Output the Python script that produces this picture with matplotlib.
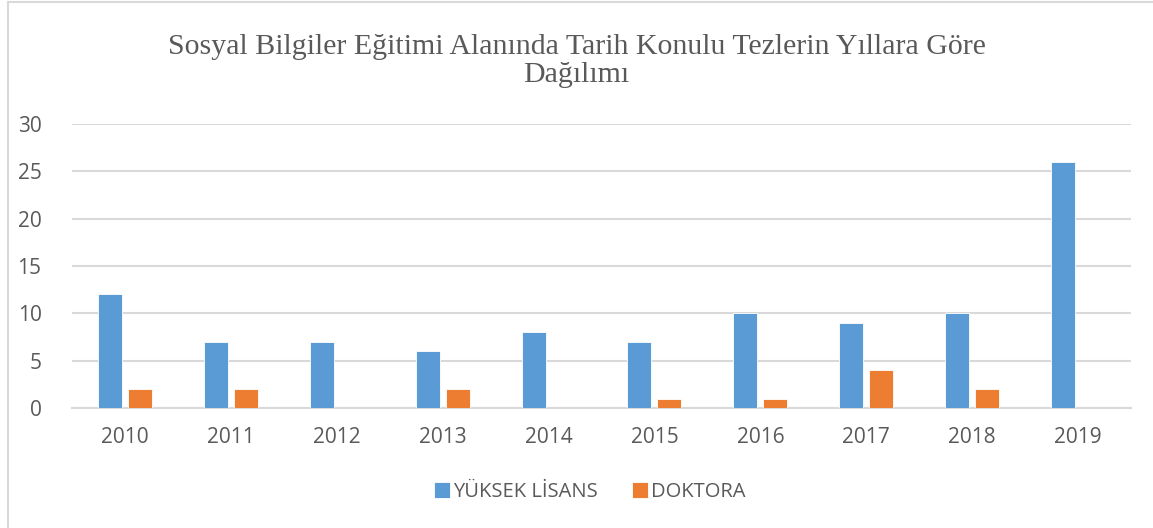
import matplotlib
matplotlib.use("Agg")
import matplotlib.pyplot as plt
from matplotlib.lines import Line2D
import numpy as np

# Data
years = ["2010", "2011", "2012", "2013", "2014", "2015", "2016", "2017", "2018", "2019"]
yuksek_lisans = [12, 7, 7, 6, 8, 7, 10, 9, 10, 26]
doktora = [2, 2, 0, 2, 0, 1, 1, 4, 2, 0]
series_names = ["YÜKSEK LİSANS", "DOKTORA"]
title = "Sosyal Bilgiler Eğitimi Alanında Tarih Konulu Tezlerin Yıllara Göre\nDağılımı"

BLUE = "#5B9BD5"
ORANGE = "#ED7D31"
GRID = "#D9D9D9"
TEXT = "#595959"

W, H = 1153, 528
fig = plt.figure(figsize=(W / 100, H / 100), dpi=100)

# plot area in pixels (left, right, top, bottom)
px_l, px_r, px_t, px_b = 72, 1131, 124, 408
ax = fig.add_axes([px_l / W, 1 - px_b / H, (px_r - px_l) / W, (px_b - px_t) / H])

x = np.arange(len(years))
bw = 0.226
off = 0.1415
ax.bar(x - off, yuksek_lisans, bw, color=BLUE, edgecolor="white", linewidth=0.6,
       label=series_names[0], zorder=3)
ax.bar(x + off, doktora, bw, color=ORANGE, edgecolor="white", linewidth=0.6,
       label=series_names[1], zorder=3)

ax.set_xlim(-0.5, len(years) - 0.5)
ax.set_ylim(0, 30)
ax.set_yticks([0, 5, 10, 15, 20, 25, 30])
ax.set_xticks(x)
ax.set_xticklabels(years)

for s in ["top", "right", "left"]:
    ax.spines[s].set_visible(False)
ax.spines["bottom"].set_color(GRID)
ax.spines["bottom"].set_linewidth(1.5)
ax.yaxis.grid(True, color=GRID, linewidth=1.5, zorder=0)
ax.set_axisbelow(True)
ax.tick_params(axis="both", length=0, colors=TEXT, labelsize=15)
ax.tick_params(axis="y", pad=22)
ax.tick_params(axis="x", pad=14)
for lab in ax.get_xticklabels() + ax.get_yticklabels():
    lab.set_fontfamily("Open Sans")

fig.text(0.5, 1 - 61 / H, title, ha="center", va="center", fontsize=21.5,
         color=TEXT, family="Liberation Serif", linespacing=1.15)

leg = fig.legend(loc="center", bbox_to_anchor=(590 / W, 1 - 492 / H), ncol=2,
                 frameon=False, handlelength=0.8, handleheight=0.8,
                 handletextpad=0.15, columnspacing=1.7,
                 prop={"family": "Open Sans", "size": 14.5})
for t in leg.get_texts():
    t.set_color(TEXT)

# outer chart border (left and top edges visible)
fig.add_artist(Line2D([8 / W, 8 / W], [0, 1 - 2 / H], transform=fig.transFigure,
                      color=GRID, linewidth=1.5))
fig.add_artist(Line2D([8 / W, 1], [1 - 2 / H, 1 - 2 / H], transform=fig.transFigure,
                      color=GRID, linewidth=1.5))

fig.savefig("out.png", dpi=100)
